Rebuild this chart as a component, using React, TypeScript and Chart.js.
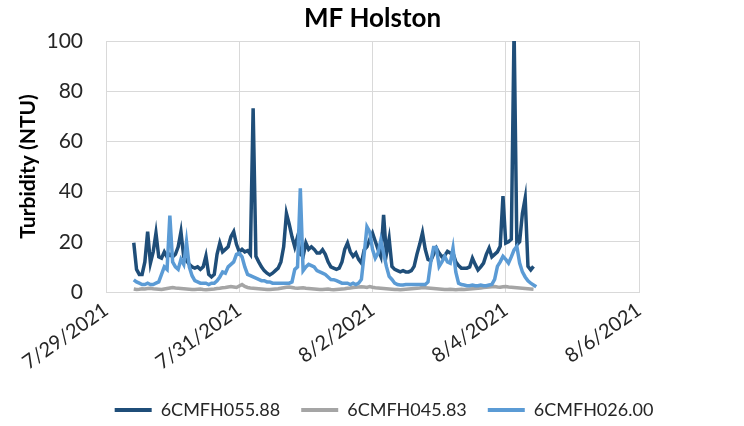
import React, { useEffect, useRef } from 'react';
import { Chart, registerables } from 'chart.js';

Chart.register(...registerables);

const chartTitle = 'MF Holston';
const yAxisTitle = 'Turbidity (NTU)';
const dateLabels = ['7/29/2021', '7/31/2021', '8/2/2021', '8/4/2021', '8/6/2021'];
const seriesNames = ['6CMFH055.88', '6CMFH045.83', '6CMFH026.00'];
const seriesColors = ['#1F4E79', '#A5A5A5', '#5B9BD5'];

// hourly readings, hours counted from 7/29/2021 00:00
const startHour = 10;

const mfh05588 = [
  19.6, 9, 7, 7, 12, 24, 11.5, 16, 23.5, 14,
  13.5, 16, 14, 15, 14, 15, 18, 24, 14, 12.5,
  11, 10, 9.5, 10, 9, 10, 14.3, 7, 6, 7,
  15, 19.5, 16, 17, 18, 22, 24, 19, 16, 17,
  16, 16.5, 15, 73.2, 14.2, 12, 10, 8.5, 7.5, 6.8,
  7.5, 8.5, 9.5, 12, 18, 31.3, 27, 22, 18, 22,
  15, 14.2, 19.5, 17, 18, 17, 15.5, 15.5, 16.8, 15,
  12, 10, 9.5, 9, 9.5, 12, 17, 19.5, 16, 14.2,
  15.5, 13, 11.5, 16.8, 18, 21, 23.5, 20.2, 17, 14.2,
  30.7, 15, 21.2, 10.2, 9, 8.5, 8, 8.5, 8, 8,
  8.5, 10.2, 15, 19, 23.6, 17, 13, 12.5, 15, 17.5,
  15.5, 14, 14.5, 16.2, 15.5, 15.5, 12, 10.5, 9.5, 9.5,
  9.5, 10, 13.5, 11, 8.8, 10, 11.5, 15, 17.5, 14,
  15, 16, 18.2, 38.2, 19.5, 20, 21, 105, 18.8, 20,
  31.3, 37.4, 10.2, 8.8, 10.2,
];

const mfh04583 = [
  1.2, 1.0, 1.1, 1.3, 1.2, 1.4, 1.5, 1.3, 1.2, 1.1,
  1.0, 1.2, 1.4, 1.6, 1.8, 1.6, 1.5, 1.4, 1.3, 1.2,
  1.1, 1.0, 1.0, 1.1, 1.2, 1.0, 0.9, 1.0, 1.1, 1.2,
  1.4, 1.5, 1.7, 1.8, 2.0, 2.2, 2.0, 1.8, 2.4, 3.0,
  2.2, 1.8, 1.6, 1.5, 1.4, 1.3, 1.2, 1.1, 1.0, 1.0,
  1.1, 1.2, 1.3, 1.5, 1.7, 1.9, 2.0, 1.8, 1.6, 1.5,
  1.6, 1.7, 1.5, 1.4, 1.3, 1.2, 1.1, 1.0, 1.0, 1.1,
  1.2, 1.0, 0.9, 1.0, 1.1, 1.2, 1.3, 1.5, 1.6, 1.8,
  1.9, 2.0, 2.1, 2.0, 1.8, 2.2, 1.9, 1.7, 1.6, 1.5,
  1.4, 1.3, 1.2, 1.1, 1.0, 1.0, 0.9, 1.0, 1.1, 1.2,
  1.3, 1.4, 1.5, 1.6, 1.8, 1.7, 1.6, 1.5, 1.4, 1.3,
  1.2, 1.1, 1.0, 1.0, 1.1, 1.0, 0.9, 1.0, 1.1, 1.0,
  1.1, 1.2, 1.3, 1.4, 1.5, 1.6, 1.8, 1.9, 2.0, 2.1,
  2.2, 2.0, 1.9, 2.1, 2.2, 2.0, 1.9, 1.8, 1.7, 1.6,
  1.5, 1.4, 1.3, 1.2, 1.1,
];

const mfh02600 = [
  4.8, 4, 3.5, 3, 3, 3.5, 3, 3, 3.5, 4,
  7, 10, 9, 30.4, 12, 10, 9, 13, 11, 20,
  10, 6.5, 4.5, 4, 3.5, 3.5, 3.5, 3, 3.5, 3.5,
  4.5, 6, 8, 7.5, 10, 11, 12, 15, 15.5, 14,
  10, 7, 6.5, 6, 5.5, 5, 4.5, 4.5, 4, 4,
  3.5, 3.5, 3.5, 3.5, 3.5, 3.5, 3.5, 4, 9, 10,
  41.3, 8.5, 10, 11, 10.5, 10, 8.5, 8, 7.5, 7,
  6, 5, 4.9, 4.5, 4, 3.5, 3.5, 3.5, 3, 3.5,
  3, 3.5, 5, 15, 26, 24, 17, 13.5, 15.5, 20.7,
  15.5, 10.2, 6.2, 5, 3.5, 3, 2.8, 2.8, 3, 3,
  3, 3, 3, 3, 3, 3, 4, 12, 17.7, 17.7,
  10.2, 12, 14.2, 12, 11.5, 17.5, 8, 3.5, 3, 2.8,
  2.5, 2.5, 2.8, 2.5, 2.5, 2.8, 2.5, 2.5, 2.8, 3,
  5, 10.2, 12, 14.2, 13, 11.5, 14, 16.8, 18.2, 11.5,
  8, 6, 4.5, 3.5, 2.8, 2.1,
];

const hoursPerTick = 48;

function toPoints(values: number[]) {
  return values.map((v, i) => ({ x: startHour + i, y: v }));
}

export default function App() {
  const ref = useRef<HTMLCanvasElement>(null);

  useEffect(() => {
    const canvas = ref.current;
    if (!canvas) return;
    const family = 'Lato';
    const gridColor = '#d9d9d9';
    const textColor = '#262626';
    const seriesData = [mfh05588, mfh04583, mfh02600];
    const orders = [2, 1, 0];

    const chart = new Chart(canvas, {
      type: 'line',
      data: {
        datasets: seriesNames.map((name, i) => ({
          label: name,
          data: toPoints(seriesData[i]),
          borderColor: seriesColors[i],
          backgroundColor: seriesColors[i],
          borderWidth: 3.5,
          pointRadius: 0,
          tension: 0,
          order: orders[i],
        })),
      },
      options: {
        responsive: false,
        animation: false,
        layout: { padding: { left: 24, right: 0, top: 0, bottom: -3 } },
        plugins: {
          title: {
            display: true,
            text: chartTitle,
            fullSize: false,
            color: '#000000',
            font: { family, size: 26, weight: 'bold', lineHeight: 1.2 },
            padding: { top: 3.5, bottom: 6.3 },
          },
          legend: {
            position: 'bottom',
            labels: {
              color: textColor,
              font: { family, size: 18 },
              boxWidth: 37,
              boxHeight: 4,
              padding: 21,
              sort: (a: any, b: any) => a.datasetIndex - b.datasetIndex,
              generateLabels: (c: any) =>
                (Chart.defaults.plugins.legend.labels.generateLabels as any)(c).map((l: any) => ({
                  ...l,
                  lineWidth: 0,
                  fillStyle: l.strokeStyle,
                })),
            },
          },
          tooltip: { enabled: false },
        },
        scales: {
          x: {
            type: 'linear',
            min: 0,
            max: hoursPerTick * (dateLabels.length - 1),
            ticks: {
              stepSize: hoursPerTick,
              autoSkip: false,
              maxRotation: 35,
              minRotation: 35,
              padding: 6,
              color: textColor,
              font: { family, size: 20 },
              callback: (v: any) => dateLabels[Math.round(Number(v) / hoursPerTick)] ?? '',
            },
            grid: { color: gridColor, drawTicks: false },
            border: { color: gridColor },
            afterFit: (s: any) => {
              s.height = 88;
            },
          },
          y: {
            min: 0,
            max: 100,
            ticks: {
              stepSize: 20,
              padding: 23,
              color: textColor,
              font: { family, size: 21 },
            },
            grid: { color: gridColor, drawTicks: false },
            border: { color: gridColor },
            title: {
              display: true,
              text: yAxisTitle,
              color: '#000000',
              font: { family, size: 21, weight: 'bold', lineHeight: 1.2 },
              padding: { top: -8.6, bottom: 0 },
            },
            afterFit: (s: any) => {
              s.width = 82;
            },
          },
          y2: {
            position: 'right',
            display: true,
            grid: { display: false },
            border: { display: false },
            ticks: { display: false },
            afterFit: (s: any) => {
              s.width = 105;
            },
          },
        },
      } as any,
    });

    return () => chart.destroy();
  }, []);

  return (
    <div style={{ position: 'absolute', left: 0, top: 0, width: 744, height: 426, background: '#ffffff' }}>
      <canvas ref={ref} width={744} height={426} style={{ display: 'block' }} />
    </div>
  );
}
